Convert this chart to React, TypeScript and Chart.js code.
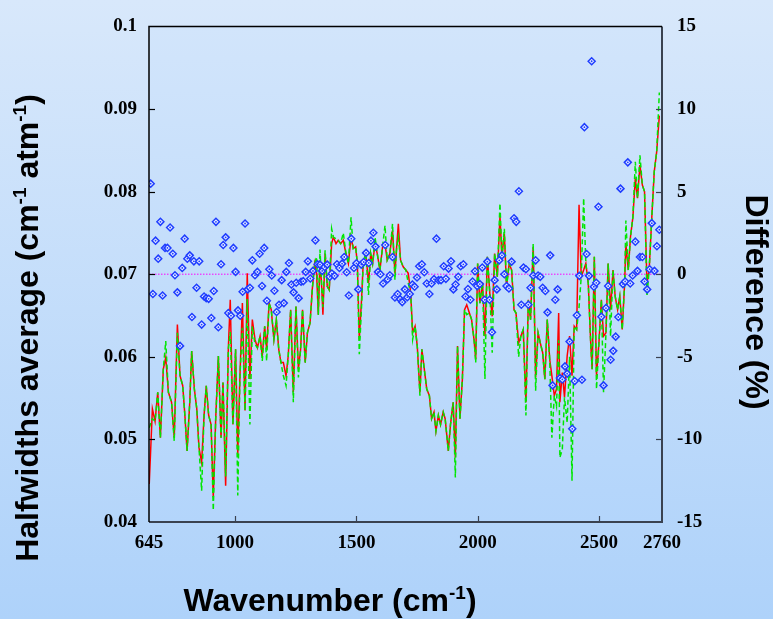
import React, { useEffect, useRef } from "react";
import { Chart, registerables } from "chart.js";

Chart.register(...registerables);

// ---- Data ----
const lineWavenumbers = [
  646, 659, 670, 681, 692, 704, 714, 725, 738, 749, 762, 773, 784, 793, 802, 813, 821, 832, 842, 851,
  862, 872, 881, 891, 901, 910, 920, 931, 942, 950, 961, 972, 980, 991, 1002, 1011, 1020, 1030, 1041, 1050,
  1061, 1071,
  1082, 1092, 1103, 1112, 1122, 1130, 1140, 1149, 1160, 1170, 1180, 1189, 1199, 1210, 1219, 1229, 1240, 1251,
  1261, 1270, 1278, 1289, 1298, 1309, 1318, 1328, 1336, 1343, 1350, 1357, 1362, 1371, 1380, 1388, 1398, 1405,
  1416, 1425, 1435, 1446, 1457, 1467, 1478, 1487, 1497, 1504, 1512,
  1522, 1528, 1539, 1550, 1559, 1567, 1577, 1586, 1597, 1608, 1618, 1627, 1638, 1649, 1659, 1666, 1673, 1682,
  1693, 1704, 1714, 1724, 1732, 1742, 1751, 1762, 1770, 1780, 1790, 1801, 1810, 1820, 1828, 1838, 1847, 1858,
  1866, 1879, 1888, 1899, 1908, 1917, 1927, 1937, 1946, 1955, 1966, 1975, 1985, 1992, 2000,
  2009, 2020, 2030, 2040, 2051, 2060, 2070, 2081, 2092, 2100, 2110, 2119, 2130, 2140, 2150, 2158, 2169, 2178,
  2188, 2199, 2209, 2218, 2229, 2239, 2249, 2258, 2268, 2277, 2287, 2297, 2306, 2316, 2325, 2334, 2339, 2349,
  2358, 2369, 2379, 2389, 2398, 2408, 2418, 2427, 2437, 2446, 2456, 2466, 2472, 2481, 2490, 2500, 2510, 2519,
  2529, 2538, 2548, 2558, 2567, 2577, 2586, 2596, 2606, 2611, 2621, 2630, 2640, 2650, 2659, 2669, 2679, 2688,
  2698, 2707, 2718, 2728, 2738, 2749,
];

const redHalfwidths = [
  0.0446, 0.0537, 0.0522, 0.0557, 0.0502, 0.0585, 0.0599, 0.0557, 0.0545, 0.0502, 0.0639, 0.0577, 0.0565, 0.0529, 0.0486, 0.0545, 0.0607, 0.0561, 0.0537, 0.0490,
  0.0472, 0.0529, 0.0565, 0.0529, 0.0518, 0.0430, 0.0525, 0.0601, 0.0502, 0.0569, 0.0444, 0.0609, 0.0669, 0.0518, 0.0609, 0.0482, 0.0577, 0.0665, 0.0535, 0.0701,
  0.0573, 0.0645,
  0.0621, 0.0611, 0.0625, 0.0601, 0.0637, 0.0609, 0.0665, 0.0657, 0.0621, 0.0645, 0.0609, 0.0593, 0.0593, 0.0577, 0.0601, 0.0657, 0.0557, 0.0661,
  0.0585, 0.0609, 0.0657, 0.0593, 0.0629, 0.0641, 0.0681, 0.0713, 0.0701, 0.0651, 0.0717, 0.0685, 0.0651, 0.0725, 0.0685, 0.0681, 0.0737, 0.0745,
  0.0737, 0.0741, 0.0737, 0.0741, 0.0725, 0.0713, 0.0745, 0.0731, 0.0733, 0.0713, 0.0621,
  0.0673, 0.0713, 0.0725, 0.0689, 0.0725, 0.0713, 0.0737, 0.0725, 0.0705, 0.0733, 0.0737, 0.0717, 0.0725, 0.0753, 0.0701, 0.0733, 0.0761, 0.0717,
  0.0709, 0.0705, 0.0701, 0.0677, 0.0629, 0.0637, 0.0613, 0.0557, 0.0609, 0.0585, 0.0561, 0.0553, 0.0525, 0.0533, 0.0510, 0.0529, 0.0518, 0.0533,
  0.0525, 0.0486, 0.0518, 0.0545, 0.0478, 0.0613, 0.0525, 0.0573, 0.0657, 0.0663, 0.0653, 0.0645, 0.0621, 0.0597, 0.0713,
  0.0665, 0.0690, 0.0625, 0.0721, 0.0673, 0.0649, 0.0725, 0.0697, 0.0770, 0.0721, 0.0749, 0.0685, 0.0713, 0.0705, 0.0657, 0.0653, 0.0617, 0.0625,
  0.0633, 0.0545, 0.0669, 0.0645, 0.0733, 0.0575, 0.0629, 0.0617, 0.0605, 0.0573, 0.0645, 0.0597, 0.0577, 0.0553, 0.0561, 0.0653, 0.0545, 0.0581,
  0.0551, 0.0601, 0.0625, 0.0577, 0.0637, 0.0633, 0.0784, 0.0697, 0.0705, 0.0713, 0.0689, 0.0617, 0.0585, 0.0721, 0.0577, 0.0617, 0.0669, 0.0625,
  0.0629, 0.0713, 0.0657, 0.0705, 0.0673, 0.0657, 0.0673, 0.0633, 0.0689, 0.0737, 0.0705, 0.0745, 0.0769, 0.0816, 0.0792, 0.0832, 0.0808, 0.0800,
  0.0689, 0.0705, 0.0769, 0.0824, 0.0848, 0.0892,
];

const greenHalfwidths = [
  0.0514, 0.0525, 0.0522, 0.0557, 0.0502, 0.0585, 0.0619, 0.0557, 0.0545, 0.0498, 0.0629, 0.0577, 0.0565, 0.0529, 0.0486, 0.0545, 0.0607, 0.0561, 0.0537, 0.0490,
  0.0438, 0.0529, 0.0565, 0.0529, 0.0518, 0.0414, 0.0525, 0.0601, 0.0502, 0.0569, 0.0455, 0.0609, 0.0630, 0.0518, 0.0609, 0.0432, 0.0577, 0.0635, 0.0535, 0.0670,
  0.0518, 0.0637,
  0.0615, 0.0611, 0.0625, 0.0595, 0.0637, 0.0595, 0.0665, 0.0657, 0.0621, 0.0645, 0.0609, 0.0593, 0.0577, 0.0565, 0.0601, 0.0657, 0.0545, 0.0661,
  0.0575, 0.0609, 0.0657, 0.0593, 0.0629, 0.0641, 0.0681, 0.0713, 0.0721, 0.0651, 0.0730, 0.0685, 0.0660, 0.0729, 0.0685, 0.0681, 0.0755, 0.0745,
  0.0743, 0.0741, 0.0737, 0.0750, 0.0725, 0.0713, 0.0769, 0.0731, 0.0733, 0.0713, 0.0603,
  0.0665, 0.0713, 0.0725, 0.0675, 0.0725, 0.0713, 0.0745, 0.0725, 0.0705, 0.0733, 0.0759, 0.0717, 0.0725, 0.0761, 0.0693, 0.0733, 0.0745, 0.0717,
  0.0709, 0.0705, 0.0689, 0.0677, 0.0621, 0.0637, 0.0613, 0.0553, 0.0609, 0.0585, 0.0561, 0.0553, 0.0525, 0.0533, 0.0510, 0.0529, 0.0518, 0.0533,
  0.0525, 0.0486, 0.0518, 0.0545, 0.0454, 0.0613, 0.0525, 0.0573, 0.0657, 0.0651, 0.0653, 0.0645, 0.0621, 0.0593, 0.0713,
  0.0665, 0.0690, 0.0573, 0.0721, 0.0673, 0.0605, 0.0725, 0.0697, 0.0786, 0.0721, 0.0755, 0.0685, 0.0713, 0.0705, 0.0657, 0.0653, 0.0600, 0.0625,
  0.0633, 0.0529, 0.0669, 0.0645, 0.0737, 0.0559, 0.0629, 0.0617, 0.0605, 0.0573, 0.0645, 0.0597, 0.0502, 0.0553, 0.0540, 0.0620, 0.0478, 0.0488,
  0.0551, 0.0520, 0.0600, 0.0450, 0.0637, 0.0633, 0.0660, 0.0697, 0.0792, 0.0713, 0.0689, 0.0617, 0.0585, 0.0721, 0.0561, 0.0617, 0.0669, 0.0557,
  0.0629, 0.0713, 0.0625, 0.0705, 0.0673, 0.0657, 0.0673, 0.0633, 0.0689, 0.0765, 0.0705, 0.0745, 0.0769, 0.0836, 0.0792, 0.0844, 0.0808, 0.0800,
  0.0673, 0.0705, 0.0769, 0.0824, 0.0848, 0.0920,
];

const diffWavenumbers = [
  652, 661, 672, 683, 692, 701, 711, 721, 732, 743, 752, 762, 773, 782, 792, 803, 813, 822, 830, 841,
  852, 862, 872, 881, 891, 902, 912, 921, 931, 942, 951, 961, 972, 983, 993, 1002, 1012, 1021, 1031, 1041,
  1052, 1061, 1071, 1082, 1092, 1101, 1111, 1120, 1131, 1141, 1151, 1162, 1171, 1181, 1192, 1201, 1211, 1222, 1232, 1241,
  1252, 1262, 1272, 1281, 1291, 1300, 1310, 1321, 1331, 1340, 1350, 1359, 1369, 1380, 1390, 1399, 1410, 1420, 1430, 1441,
  1450, 1460, 1469, 1479, 1490, 1500, 1508, 1520, 1530, 1540, 1551, 1560, 1570, 1579, 1589, 1599, 1610, 1619, 1629, 1638,
  1649, 1659, 1670, 1680, 1689, 1700, 1710, 1720, 1731, 1740, 1750, 1759, 1770, 1780, 1790, 1801, 1810, 1820, 1830, 1839,
  1849, 1860, 1869, 1880, 1890, 1900, 1909, 1920, 1930, 1941, 1950, 1960, 1970, 1979, 1989, 1998, 2009, 2019, 2029, 2040,
  2049, 2059, 2070, 2079, 2089, 2100, 2110, 2119, 2129, 2140, 2150, 2159, 2170, 2180, 2189, 2199, 2209, 2218, 2229, 2239,
  2249, 2258, 2268, 2279, 2288, 2299, 2309, 2320, 2330, 2339, 2349, 2360, 2369, 2379, 2390, 2400, 2409, 2419, 2430, 2440,
  2449, 2459, 2470, 2479, 2489, 2498, 2510, 2519, 2529, 2538, 2548, 2559, 2569, 2580, 2589, 2599, 2608, 2619, 2629, 2639,
  2650, 2659, 2669, 2679, 2688, 2699, 2709, 2718, 2729, 2739, 2749,
];

const differences = [
  5.48, -1.2, 2.03, 0.94, 3.17, -1.29, 1.59, 1.59, 2.83, 1.24, -0.06, -1.1, -4.34, 0.38, 2.15, 0.94, 1.14, -2.59, 0.78, -0.82,
  0.78, -3.05, -1.35, -1.45, -1.49, -2.65, -1.02, 3.17, -3.21, 0.6, 1.77, 2.23, -2.35, -2.51, 1.59, 0.14, -2.19, -2.51, -1.06, 3.07,
  -0.92, -0.82, 0.84, -0.06, 0.14, 1.24, -0.72, 1.59, -1.61, 0.3, -0.08, -1.0, -2.29, -1.85, -0.36, -1.75, 0.14, 0.68, -0.62, -1.1,
  -0.52, -1.45, -0.46, -0.42, 0.14, 0.78, -0.26, 0.2, 2.05, 0.6, 0.58, 0.2, 0.44, 0.58, -0.16, 0.04, -0.1, 0.6, 0.38, 0.64,
  1.04, 0.12, -1.29, 2.15, 0.38, 0.66, -0.92, 0.58, 0.74, 1.29, 0.68, 2.03, 2.51, 1.67, 0.14, 0.0, -0.56, 1.77, -0.3, -0.06,
  1.04, -1.41, -1.2, -1.51, -1.69, -0.92, -1.39, -1.2, -0.62, -0.76, -0.2, 0.48, 0.6, 0.12, -0.56, -1.2, -0.56, -0.3, 2.15, -0.36,
  -0.36, 0.48, -0.28, 0.34, 0.78, -0.92, -0.62, -0.16, 0.48, 0.6, -1.35, -0.9, -1.55, -0.44, 0.18, -0.72, -0.6, 0.4, -1.55, 0.76,
  -1.55, -3.51, -0.36, -0.92, 0.84, 1.14, 0.0, -0.72, -0.86, 0.76, 3.39, 3.17, 5.02, -1.85, 0.4, 0.3, -1.85, -0.82, -0.08, 0.84,
  -0.08, -0.16, -0.82, -1.02, -2.31, 1.14, -6.73, -1.55, -0.92, -6.29, -6.37, -5.58, -6.02, -4.08, -9.36, -6.47, -2.49, -0.1, -6.39, 8.9,
  1.22, -0.1, 12.89, -0.76, -0.52, 4.08, -2.57, -6.73, -2.05, -0.72, -5.18, -4.64, -3.78, -2.59, 5.18, -0.6, -0.44, 6.77, -0.56, -0.08,
  1.97, 0.2, 1.04, 1.04, -0.44, -0.92, 0.3, 3.09, 0.2, 1.69, 2.69,
];

const referenceWavenumbers = [645, 2760];
const referenceHalfwidth = [0.07, 0.07];

const xTickValues = [645, 1000, 1500, 2000, 2500, 2760];
const leftTickValues = [0.04, 0.05, 0.06, 0.07, 0.08, 0.09, 0.1];
const leftTickLabels = ["0.04", "0.05", "0.06", "0.07", "0.08", "0.09", "0.1"];
const rightTickValues = [-15, -10, -5, 0, 5, 10, 15];
const rightTickLabels = ["-15", "-10", "-5", "0", "5", "10", "15"];

const leftTitle = [
  { text: "Halfwidths average (cm", sup: false },
  { text: "-1", sup: true },
  { text: " atm", sup: false },
  { text: "-1", sup: true },
  { text: ")", sup: false },
];
const rightTitle = [{ text: "Difference (%)", sup: false }];
const bottomTitle = [
  { text: "Wavenumber (cm", sup: false },
  { text: "-1", sup: true },
  { text: ")", sup: false },
];

const W = 773;
const H = 619;
const SANS = '"Liberation Sans", Arial, Helvetica, sans-serif';
const SERIF = '"Liberation Serif", "Times New Roman", Times, serif';

type Part = { text: string; sup: boolean };

function drawRich(
  ctx: CanvasRenderingContext2D,
  parts: Part[],
  cx: number,
  cy: number,
  rotation: number
) {
  const mainFont = `bold 32px ${SANS}`;
  const supFont = `bold 19px ${SANS}`;
  ctx.save();
  let total = 0;
  const widths: number[] = [];
  for (const p of parts) {
    ctx.font = p.sup ? supFont : mainFont;
    const w = ctx.measureText(p.text).width;
    widths.push(w);
    total += w;
  }
  ctx.translate(cx, cy);
  ctx.rotate(rotation);
  ctx.fillStyle = "#000";
  ctx.textBaseline = "alphabetic";
  ctx.textAlign = "left";
  let x = -total / 2;
  parts.forEach((p, i) => {
    ctx.font = p.sup ? supFont : mainFont;
    ctx.fillText(p.text, x, p.sup ? -12 : 0);
    x += widths[i];
  });
  ctx.restore();
}

const framePlugin = {
  id: "frame",
  beforeDraw(chart: any) {
    const { ctx, chartArea } = chart;
    const { left, top, right, bottom } = chartArea;
    const g = ctx.createLinearGradient(0, top, 0, bottom);
    g.addColorStop(0, "#d2e5fb");
    g.addColorStop(1, "#b3d5fb");
    ctx.save();
    ctx.fillStyle = g;
    ctx.fillRect(left, top, right - left, bottom - top);
    ctx.restore();
  },
  afterDatasetsDraw(chart: any) {
    // small centre dot inside each diamond marker
    const { ctx } = chart;
    const meta = chart.getDatasetMeta(0);
    ctx.save();
    ctx.fillStyle = "#1f3dff";
    for (const el of meta.data) {
      ctx.beginPath();
      ctx.arc(el.x, el.y, 0.9, 0, Math.PI * 2);
      ctx.fill();
    }
    ctx.restore();
  },
  afterDraw(chart: any) {
    const { ctx, chartArea, scales } = chart;
    const { left, top, right, bottom } = chartArea;
    ctx.save();
    // inward tick marks
    ctx.lineWidth = 1.2;
    ctx.strokeStyle = "#000";
    for (const v of leftTickValues) {
      const y = Math.round(scales.y.getPixelForValue(v)) + 0.5;
      if (v <= 0.04 || v >= 0.1) continue;
      ctx.beginPath();
      ctx.moveTo(left, y);
      ctx.lineTo(left + 6, y);
      ctx.stroke();
    }
    ctx.strokeStyle = "#3a4250";
    for (const v of rightTickValues) {
      if (v <= -15 || v >= 15) continue;
      const y = Math.round(scales.y2.getPixelForValue(v)) + 0.5;
      ctx.beginPath();
      ctx.moveTo(right, y);
      ctx.lineTo(right - 6, y);
      ctx.stroke();
    }
    for (const v of xTickValues) {
      if (v <= 645 || v >= 2760) continue;
      const x = Math.round(scales.x.getPixelForValue(v)) + 0.5;
      ctx.beginPath();
      ctx.moveTo(x, bottom);
      ctx.lineTo(x, bottom - 6);
      ctx.stroke();
    }
    // frame
    ctx.lineWidth = 2;
    ctx.strokeStyle = "#3a4250";
    ctx.beginPath();
    ctx.moveTo(right, top);
    ctx.lineTo(right, bottom);
    ctx.lineTo(left, bottom);
    ctx.stroke();
    ctx.lineWidth = 1.5;
    ctx.strokeStyle = "#000";
    ctx.beginPath();
    ctx.moveTo(left, bottom);
    ctx.lineTo(left, top);
    ctx.lineTo(right, top);
    ctx.stroke();
    ctx.restore();

    drawRich(ctx, leftTitle, 38, 328, -Math.PI / 2);
    drawRich(ctx, rightTitle, 746, 302, Math.PI / 2);
    drawRich(ctx, bottomTitle, 330, 611, 0);
  },
};

export default function App() {
  const ref = useRef<HTMLCanvasElement | null>(null);

  useEffect(() => {
    if (!ref.current) return;
    const tickFont = { family: SERIF, size: 19, weight: "bold" as const };

    const toPoints = (xs: number[], ys: number[]) => xs.map((x, i) => ({ x, y: ys[i] }));

    const chart = new Chart(ref.current, {
      type: "line",
      data: {
        datasets: [
          {
            label: "Difference (%)",
            data: toPoints(diffWavenumbers, differences),
            yAxisID: "y2",
            showLine: false,
            pointStyle: "rectRot",
            pointRadius: 3.5,
            pointBorderWidth: 1.5,
            pointBorderColor: "#1f3dff",
            pointBackgroundColor: "#e6efff",
            order: 0,
          },
          {
            label: "Halfwidths (green)",
            data: toPoints(lineWavenumbers, greenHalfwidths),
            yAxisID: "y",
            borderColor: "#00e600",
            borderWidth: 1.5,
            borderDash: [5, 3],
            pointRadius: 0,
            tension: 0,
            order: 1,
          },
          {
            label: "Halfwidths (red)",
            data: toPoints(lineWavenumbers, redHalfwidths),
            yAxisID: "y",
            borderColor: "#ff0000",
            borderWidth: 1.5,
            pointRadius: 0,
            tension: 0,
            order: 2,
          },
          {
            label: "Reference",
            data: toPoints(referenceWavenumbers, referenceHalfwidth),
            yAxisID: "y",
            borderColor: "#ff00ff",
            borderWidth: 1,
            borderDash: [1.5, 1.5],
            pointRadius: 0,
            order: 3,
          },
        ],
      },
      options: {
        animation: false,
        responsive: false,
        maintainAspectRatio: false,
        devicePixelRatio: 1,
        layout: { padding: { top: 19, left: 0, right: 0, bottom: 0 } },
        plugins: {
          legend: { display: false },
          tooltip: { enabled: false },
          title: { display: false },
        },
        scales: {
          x: {
            type: "linear",
            min: 645,
            max: 2760,
            grid: { display: false, drawTicks: false },
            border: { display: false },
            afterBuildTicks: (s: any) => {
              s.ticks = xTickValues.map((v) => ({ value: v }));
            },
            afterFit: (s: any) => {
              s.height = 97;
            },
            ticks: {
              font: tickFont,
              color: "#000",
              padding: 10,
              maxRotation: 0,
              minRotation: 0,
              autoSkip: false,
              callback: (v: any) => String(v),
            },
          },
          y: {
            type: "linear",
            position: "left",
            min: 0.04,
            max: 0.1,
            grid: { display: false, drawTicks: false },
            border: { display: false },
            afterBuildTicks: (s: any) => {
              s.ticks = leftTickValues.map((v) => ({ value: v }));
            },
            afterFit: (s: any) => {
              s.width = 149;
            },
            ticks: {
              font: tickFont,
              color: "#000",
              padding: 12,
              callback: (_v: any, i: number) => leftTickLabels[i],
            },
          },
          y2: {
            type: "linear",
            position: "right",
            min: -15,
            max: 15,
            grid: { display: false, drawTicks: false },
            border: { display: false },
            afterBuildTicks: (s: any) => {
              s.ticks = rightTickValues.map((v) => ({ value: v }));
            },
            afterFit: (s: any) => {
              s.width = 111;
            },
            ticks: {
              font: tickFont,
              color: "#000",
              padding: 15,
              callback: (_v: any, i: number) => rightTickLabels[i],
            },
          },
        },
      },
      plugins: [framePlugin],
    });

    return () => chart.destroy();
  }, []);

  return (
    <div
      style={{
        position: "fixed",
        left: 0,
        top: 0,
        width: W,
        height: H,
        background: "linear-gradient(180deg, #d8e8fb 0%, #aed2fa 100%)",
      }}
    >
      <canvas ref={ref} width={W} height={H} style={{ display: "block", width: W, height: H }} />
    </div>
  );
}
